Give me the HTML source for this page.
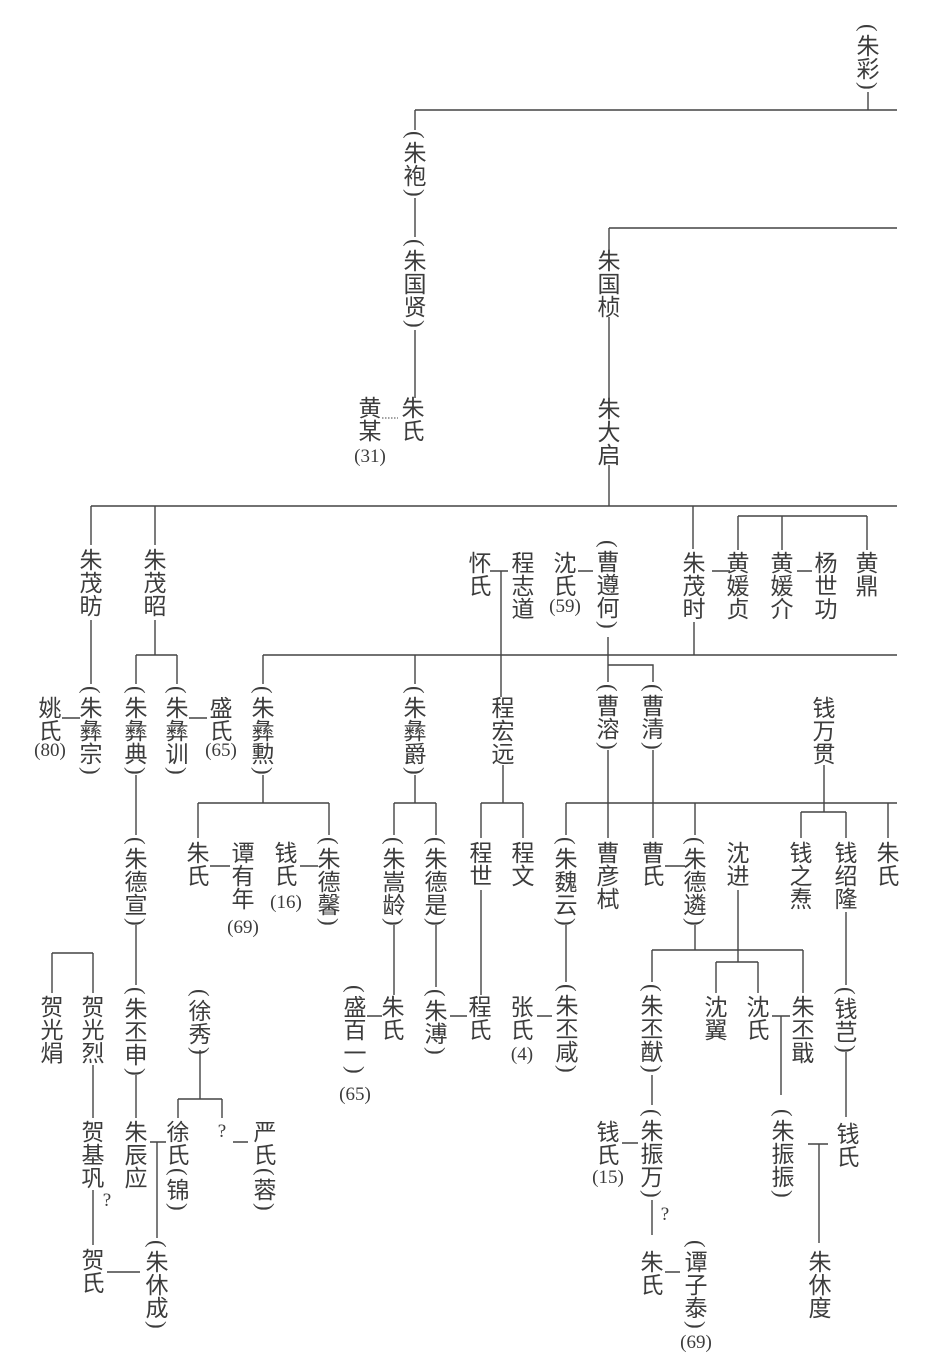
<!DOCTYPE html>
<html><head><meta charset="utf-8">
<style>
html,body{margin:0;padding:0;background:#fff;}
body{width:935px;height:1372px;position:relative;overflow:hidden;}
.v{position:absolute;writing-mode:vertical-rl;text-orientation:mixed;font:23px/24px "Noto Sans CJK SC","WenQuanYi Zen Hei",sans-serif;color:#3c3c3c;transform:translateX(-50%);white-space:nowrap;}
.p{font-family:"Liberation Serif",serif;margin-top:2px;margin-bottom:2px;}
.n{position:absolute;font:19px/22px "Liberation Serif",serif;color:#3c3c3c;transform:translateX(-50%);white-space:nowrap;}
svg{position:absolute;left:0;top:0;}
</style></head><body>
<svg width="935" height="1372" viewBox="0 0 935 1372">
<g stroke="#444" stroke-width="1.4" fill="none">
<path d="M868 92V110M415 110H897M415 110V130M415 198V237M415 330V398"/>
<path d="M382 418H398" stroke-dasharray="1.5 1.5" stroke-width="1"/>
<path d="M609 228H897M609 228V250M609 317V398M609 465V506"/>
<path d="M91 506H897M91 506V545M155 506V545M693 506V549"/>
<path d="M91 620V684M155 620V655M136 655H177M136 655V684M177 655V684"/>
<path d="M62 718H80M189 718H207"/>
<path d="M263 655H897M263 655V684M415 655V684M694 622V655"/>
<path d="M490 571H508M501 571V697M578 571H593"/>
<path d="M608 637V682M608 665H653V682"/>
<path d="M712 571H730M738 516H867M738 516V550M782 516V550M867 516V550M797 571H812"/>
<path d="M263 775V803M198 803H329M198 803V838M329 803V835M210 866H230M300 866H318"/>
<path d="M415 775V803M394 803H436M394 803V835M436 803V835"/>
<path d="M503 765V803M481 803H523M481 803V838M523 803V838"/>
<path d="M566 803H897M566 803V835M608 750V838M653 750V838M695 803V835M888 803V838"/>
<path d="M824 765V812M801 812H846M801 812V838M846 812V838M665 866H685"/>
<path d="M136 775V835M136 925V985M136 1075V1118"/>
<path d="M52 953H93M52 953V993M93 953V993M93 1065V1118M93 1190V1245"/>
<path d="M200 1050V1099M178 1099H222M178 1099V1118M222 1099V1118M233 1142H248"/>
<path d="M150 1142H166M157 1142V1238M107 1272H140"/>
<path d="M394 925V995M367 1016H382M436 925V987M450 1016H467"/>
<path d="M481 890V995M537 1016H552M566 925V982"/>
<path d="M695 925V950M652 950H803M652 950V982M803 950V993M738 890V962M716 962H758M716 962V993M758 962V993"/>
<path d="M772 1016H790M781 1016V1095"/>
<path d="M846 912V985M846 1052V1117M808 1144H828M819 1144V1243"/>
<path d="M652 1075V1105M622 1143H638M652 1200V1235M665 1272H680"/>
</g>
</svg>

<div class="v" style="left:868px;top:22px"><span class="p">(</span>朱彩<span class="p">)</span></div>
<div class="v" style="left:415px;top:129px"><span class="p">(</span>朱袍<span class="p">)</span></div>
<div class="v" style="left:415px;top:237px"><span class="p">(</span>朱国贤<span class="p">)</span></div>
<div class="v" style="left:413px;top:396px">朱氏</div>
<div class="v" style="left:370px;top:396px">黄某</div>
<div class="n" style="left:370px;top:446px">(31)</div>
<div class="v" style="left:609px;top:249px">朱国桢</div>
<div class="v" style="left:609px;top:397px">朱大启</div>

<div class="v" style="left:91px;top:548px">朱茂昉</div>
<div class="v" style="left:155px;top:548px">朱茂昭</div>
<div class="v" style="left:91px;top:684px"><span class="p">(</span>朱彝宗<span class="p">)</span></div>
<div class="v" style="left:50px;top:696px">姚氏</div>
<div class="n" style="left:50px;top:740px">(80)</div>
<div class="v" style="left:136px;top:684px"><span class="p">(</span>朱彝典<span class="p">)</span></div>
<div class="v" style="left:177px;top:684px"><span class="p">(</span>朱彝训<span class="p">)</span></div>
<div class="v" style="left:221px;top:696px">盛氏</div>
<div class="n" style="left:221px;top:740px">(65)</div>
<div class="v" style="left:263px;top:684px"><span class="p">(</span>朱彝勲<span class="p">)</span></div>
<div class="v" style="left:415px;top:684px"><span class="p">(</span>朱彝爵<span class="p">)</span></div>

<div class="v" style="left:480px;top:551px">怀氏</div>
<div class="v" style="left:523px;top:551px">程志道</div>
<div class="v" style="left:565px;top:551px">沈氏</div>
<div class="n" style="left:565px;top:596px">(59)</div>
<div class="v" style="left:608px;top:538px"><span class="p">(</span>曹遵何<span class="p">)</span></div>
<div class="v" style="left:694px;top:551px">朱茂时</div>
<div class="v" style="left:738px;top:551px">黄媛贞</div>
<div class="v" style="left:782px;top:551px">黄媛介</div>
<div class="v" style="left:826px;top:551px">杨世功</div>
<div class="v" style="left:867px;top:551px">黄鼎</div>

<div class="v" style="left:503px;top:696px">程宏远</div>
<div class="v" style="left:608px;top:682px"><span class="p">(</span>曹溶<span class="p">)</span></div>
<div class="v" style="left:653px;top:682px"><span class="p">(</span>曹清<span class="p">)</span></div>
<div class="v" style="left:824px;top:696px">钱万贯</div>

<div class="v" style="left:136px;top:835px"><span class="p">(</span>朱德宣<span class="p">)</span></div>
<div class="v" style="left:198px;top:841px">朱氏</div>
<div class="v" style="left:243px;top:841px">谭有年</div>
<div class="n" style="left:243px;top:917px">(69)</div>
<div class="v" style="left:286px;top:841px">钱氏</div>
<div class="n" style="left:286px;top:892px">(16)</div>
<div class="v" style="left:329px;top:835px"><span class="p">(</span>朱德馨<span class="p">)</span></div>
<div class="v" style="left:394px;top:835px"><span class="p">(</span>朱嵩龄<span class="p">)</span></div>
<div class="v" style="left:436px;top:835px"><span class="p">(</span>朱德是<span class="p">)</span></div>
<div class="v" style="left:481px;top:841px">程世</div>
<div class="v" style="left:523px;top:841px">程文</div>
<div class="v" style="left:566px;top:835px"><span class="p">(</span>朱魏云<span class="p">)</span></div>
<div class="v" style="left:608px;top:841px">曹彦栻</div>
<div class="v" style="left:653px;top:841px">曹氏</div>
<div class="v" style="left:695px;top:835px"><span class="p">(</span>朱德遴<span class="p">)</span></div>
<div class="v" style="left:738px;top:841px">沈进</div>
<div class="v" style="left:801px;top:841px">钱之焘</div>
<div class="v" style="left:846px;top:841px">钱绍隆</div>
<div class="v" style="left:888px;top:841px">朱氏</div>

<div class="v" style="left:52px;top:995px">贺光焆</div>
<div class="v" style="left:93px;top:995px">贺光烈</div>
<div class="v" style="left:136px;top:985px"><span class="p">(</span>朱丕申<span class="p">)</span></div>
<div class="v" style="left:200px;top:987px"><span class="p">(</span>徐秀<span class="p">)</span></div>
<div class="v" style="left:355px;top:983px"><span class="p">(</span>盛百一<span class="p">)</span></div>
<div class="n" style="left:355px;top:1084px">(65)</div>
<div class="v" style="left:393px;top:995px">朱氏</div>
<div class="v" style="left:436px;top:987px"><span class="p">(</span>朱溥<span class="p">)</span></div>
<div class="v" style="left:480px;top:995px">程氏</div>
<div class="v" style="left:522px;top:995px">张氏</div>
<div class="n" style="left:522px;top:1044px">(4)</div>
<div class="v" style="left:567px;top:982px"><span class="p">(</span>朱丕咸<span class="p">)</span></div>
<div class="v" style="left:652px;top:982px"><span class="p">(</span>朱丕猷<span class="p">)</span></div>
<div class="v" style="left:716px;top:995px">沈翼</div>
<div class="v" style="left:758px;top:995px">沈氏</div>
<div class="v" style="left:803px;top:995px">朱丕戢</div>
<div class="v" style="left:846px;top:985px"><span class="p">(</span>钱芑<span class="p">)</span></div>

<div class="v" style="left:93px;top:1120px">贺基巩</div>
<div class="n" style="left:107px;top:1190px">?</div>
<div class="v" style="left:136px;top:1120px">朱辰应</div>
<div class="v" style="left:178px;top:1120px">徐氏<span class="p">(</span>锦<span class="p">)</span></div>
<div class="n" style="left:222px;top:1121px">?</div>
<div class="v" style="left:265px;top:1120px">严氏<span class="p">(</span>蓉<span class="p">)</span></div>
<div class="v" style="left:608px;top:1120px">钱氏</div>
<div class="n" style="left:608px;top:1167px">(15)</div>
<div class="v" style="left:652px;top:1107px"><span class="p">(</span>朱振万<span class="p">)</span></div>
<div class="n" style="left:665px;top:1204px">?</div>
<div class="v" style="left:783px;top:1107px"><span class="p">(</span>朱振振<span class="p">)</span></div>
<div class="v" style="left:848px;top:1122px">钱氏</div>

<div class="v" style="left:93px;top:1248px">贺氏</div>
<div class="v" style="left:157px;top:1238px"><span class="p">(</span>朱休成<span class="p">)</span></div>
<div class="v" style="left:652px;top:1250px">朱氏</div>
<div class="v" style="left:696px;top:1238px"><span class="p">(</span>谭子泰<span class="p">)</span></div>
<div class="n" style="left:696px;top:1332px">(69)</div>
<div class="v" style="left:820px;top:1250px">朱休度</div>
</body></html>
